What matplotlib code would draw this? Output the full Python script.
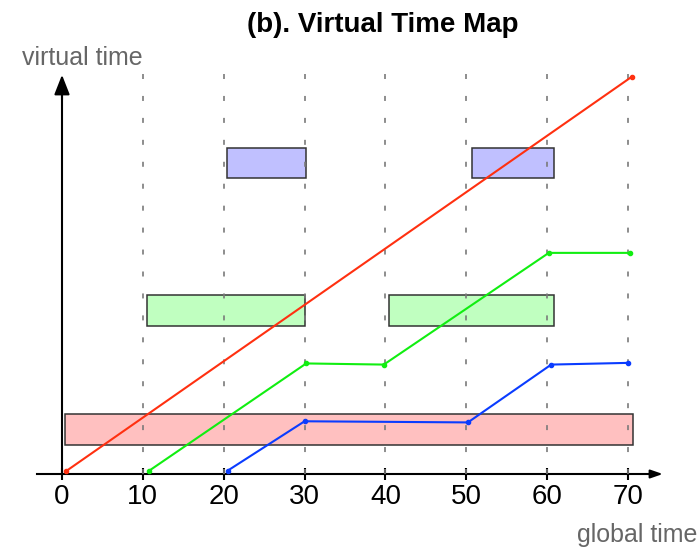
import matplotlib
matplotlib.use("Agg")
import matplotlib.pyplot as plt
from matplotlib.patches import Rectangle

plt.rcParams['font.family'] = ['Liberation Sans', 'DejaVu Sans']
plt.rcParams['lines.scale_dashes'] = False

# 데이터
title = "(b). Virtual Time Map"
x_ticks = [0, 10, 20, 30, 40, 50, 60, 70]
grid_x = [10, 20, 30, 40, 50, 60, 70]

red_x = [0.5, 70.5]
red_y = [0.5, 70.1]
green_x = [10.8, 30.2, 39.8, 60.2, 70.2]
green_y = [0.6, 19.5, 19.3, 39.0, 39.0]
blue_x = [20.5, 30.0, 50.2, 60.5, 70.0]
blue_y = [0.6, 9.3, 9.1, 19.3, 19.6]

# (x0, x1, y0, y1)
pink_boxes = [(0.4, 70.6, 5.1, 10.6)]
green_boxes = [(10.5, 30.05, 26.1, 31.6), (40.4, 60.8, 26.1, 31.6)]
blue_boxes = [(20.4, 30.2, 52.2, 57.5), (50.7, 60.8, 52.2, 57.5)]

fig = plt.figure(figsize=(7.0, 5.48), dpi=100)
ax = fig.add_axes([0, 0, 1, 1])
ax.set_xlim(-7.667, 78.90)
ax.set_ylim(-13.05, 83.6)

# 축 설정
for s in ['top', 'right']:
    ax.spines[s].set_visible(False)
ax.spines['bottom'].set_position(('data', 0))
ax.spines['left'].set_position(('data', 0))
ax.spines['bottom'].set_bounds(-3.1, 73.5)
ax.spines['left'].set_bounds(0, 68)
for s in ['bottom', 'left']:
    ax.spines[s].set_linewidth(1.5)
ax.set_xticks(x_ticks)
ax.set_yticks([])
ax.tick_params(axis='x', direction='inout', length=9, width=1.5, pad=2.5, labelsize=20)

# 화살표
ax.annotate('', xy=(74.3, 0), xytext=(72.5, 0),
            arrowprops=dict(arrowstyle='-|>,head_length=0.72,head_width=0.25',
                            mutation_scale=10, color='black', lw=1.5,
                            shrinkA=0, shrinkB=0))
ax.annotate('', xy=(0, 70.4), xytext=(0, 66),
            arrowprops=dict(arrowstyle='-|>,head_length=1.2,head_width=0.47',
                            mutation_scale=10, color='black', lw=1.5,
                            shrinkA=0, shrinkB=0))

# 점선 격자
for gx in grid_x:
    ax.plot([gx, gx], [0, 70.6], color='#7a7a7a', lw=1.2,
            linestyle=(0, (3.6, 12.2)), zorder=3)

# 박스
def draw_boxes(boxes, face):
    for x0, x1, y0, y1 in boxes:
        ax.add_patch(Rectangle((x0, y0), x1 - x0, y1 - y0, facecolor=face,
                               edgecolor='#333333', lw=1.1, zorder=2))

draw_boxes(pink_boxes, '#ffc0c0')
draw_boxes(green_boxes, '#c0ffc0')
draw_boxes(blue_boxes, '#c0c0ff')

# 선
ax.plot(red_x, red_y, color='#ff3010', lw=1.5, marker='o', ms=3, zorder=4)
ax.plot(green_x, green_y, color='#11ee11', lw=1.5, marker='o', ms=3, zorder=4)
ax.plot(blue_x, blue_y, color='#0a3cff', lw=1.5, marker='o', ms=3, zorder=4)

# 텍스트
ax.text(39.7, 79.2, title, ha='center', va='center', fontsize=20, fontweight='bold')
ax.text(2.47, 73.4, 'virtual time', ha='center', va='center', fontsize=18, color='#666666')
ax.text(63.7, -10.8, 'global time', ha='left', va='center', fontsize=18, color='#666666')

plt.savefig('out.png', dpi=100)
